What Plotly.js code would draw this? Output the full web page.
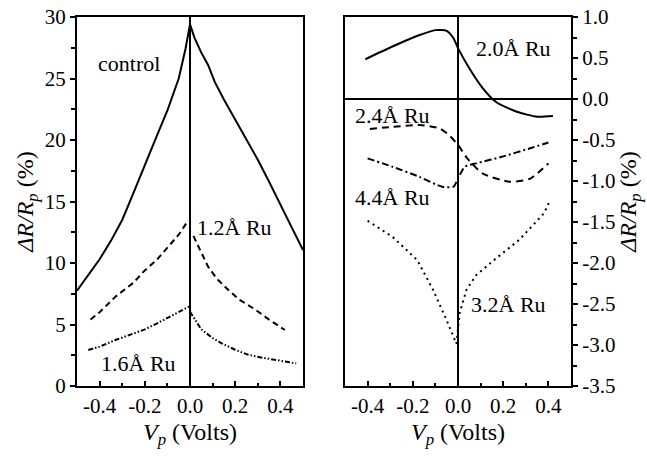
<!DOCTYPE html>
<html><head><meta charset="utf-8">
<script src="https://cdn.plot.ly/plotly-3.0.1.min.js"></script>
<style>html,body{margin:0;padding:0;background:#fff}#plot{width:647px;height:457px}</style>
</head><body><div id="plot"></div>
<script>
// Left panel data (ΔR/R_p in %)
var controlX = [-0.5,-0.45,-0.4,-0.35,-0.3,-0.25,-0.2,-0.15,-0.1,-0.05,-0.02,0,0.02,0.05,0.08,0.11,0.15,0.2,0.25,0.3,0.35,0.4,0.45,0.5];
var controlY = [7.75,9.0,10.3,11.8,13.5,15.7,18.0,20.2,22.4,25.0,27.4,29.4,28.3,27.1,26.1,24.7,23.3,21.7,20.1,18.4,16.6,14.8,12.9,11.05];
var ru12NegX = [-0.44,-0.4,-0.33,-0.25,-0.2,-0.15,-0.1,-0.05,-0.01];
var ru12NegY = [5.4,6.0,7.26,8.4,9.4,10.2,11.25,12.3,13.4];
var ru12PosX = [0.015,0.05,0.08,0.12,0.17,0.22,0.29,0.35,0.42];
var ru12PosY = [12.2,10.8,9.7,8.7,7.8,7.0,6.2,5.4,4.55];
var ru16NegX = [-0.45,-0.4,-0.33,-0.25,-0.2,-0.15,-0.1,-0.05,0];
var ru16NegY = [2.93,3.2,3.74,4.25,4.6,5.05,5.55,6.05,6.5];
var ru16PosX = [0,0.05,0.1,0.14,0.2,0.26,0.32,0.38,0.47];
var ru16PosY = [6.04,4.6,3.9,3.47,2.95,2.52,2.3,2.1,1.84];
// Right panel data
var ru20X = [-0.41,-0.29,-0.17,-0.1,-0.05,-0.02,0,0.05,0.11,0.17,0.26,0.35,0.42];
var ru20Y = [0.485,0.64,0.78,0.84,0.83,0.74,0.62,0.375,0.13,-0.04,-0.155,-0.216,-0.207];
var ru24X = [-0.39,-0.29,-0.17,-0.08,-0.04,0,0.04,0.11,0.23,0.32,0.4];
var ru24Y = [-0.366,-0.34,-0.317,-0.36,-0.44,-0.56,-0.72,-0.91,-1.01,-0.97,-0.785];
var ru44X = [-0.4,-0.29,-0.17,-0.07,-0.02,0,0.03,0.08,0.2,0.32,0.4];
var ru44Y = [-0.724,-0.826,-0.95,-1.07,-1.07,-0.97,-0.826,-0.785,-0.70,-0.6,-0.53];
var ru32X = [-0.4,-0.29,-0.18,-0.11,-0.05,-0.007,0.007,0.037,0.08,0.17,0.27,0.38,0.405];
var ru32Y = [-1.485,-1.68,-1.965,-2.33,-2.70,-2.985,-2.615,-2.33,-2.15,-1.94,-1.72,-1.395,-1.25];
// Tick labels
var xTickVals = [-0.4,-0.2,0,0.2,0.4];
var xTickText = ["-0.4","-0.2","0.0","0.2","0.4"];
var yLeftVals = [0,5,10,15,20,25,30];
var yLeftText = ["0","5","10","15","20","25","30"];
var yRightVals = [-3.5,-3,-2.5,-2,-1.5,-1,-0.5,0,0.5,1];
var yRightText = ["-3.5","-3.0","-2.5","-2.0","-1.5","-1.0","-0.5","0.0","0.5","1.0"];

var fam = "Liberation Serif, Times New Roman, serif";
function tr(x,y,xa,ya,dash,shape){
  return {x:x,y:y,xaxis:xa,yaxis:ya,mode:'lines',showlegend:false,hoverinfo:'skip',
    line:{color:'#000',width:2,dash:dash,shape:shape||'linear',smoothing:0.6}};
}
var data = [
  tr(controlX,controlY,'x','y','solid'),
  tr(ru12NegX,ru12NegY,'x','y','6px,4px'),
  tr(ru12PosX,ru12PosY,'x','y','6px,4px'),
  tr(ru16NegX,ru16NegY,'x','y','5px,2px,1.5px,2px,1.5px,2px'),
  tr(ru16PosX,ru16PosY,'x','y','5px,2px,1.5px,2px,1.5px,2px'),
  tr(ru20X,ru20Y,'x2','y2','solid','spline'),
  tr(ru24X,ru24Y,'x2','y2','7px,5px','spline'),
  tr(ru44X,ru44Y,'x2','y2','7px,3px,2px,3px','spline'),
  tr(ru32X,ru32Y,'x2','y2','2px,4px')
];
function xax(dom,anchor){
  return {domain:dom,anchor:anchor,range:[-0.5,0.5],tickvals:xTickVals,ticktext:xTickText,
    ticks:'inside',ticklen:5,tickwidth:2,tickcolor:'#000',
    minor:{tickvals:[-0.3,-0.1,0.1,0.3],ticks:'inside',ticklen:3,tickwidth:2,tickcolor:'#000',showgrid:false},
    showline:true,linewidth:2,linecolor:'#000',mirror:true,showgrid:false,
    zeroline:true,zerolinewidth:2,zerolinecolor:'#000',
    tickfont:{family:fam,size:21,color:'#000'},
    title:{text:'<i>V</i><sub><i>p</i></sub> (Volts)',font:{family:fam,size:24,color:'#000'},standoff:6}};
}
var layout = {
  width:647,height:457,margin:{l:0,r:0,t:0,b:0},paper_bgcolor:'#fff',plot_bgcolor:'#fff',
  xaxis:xax([77/647,303/647],'y'),
  xaxis2:xax([345/647,571/647],'y2'),
  yaxis:{domain:[71/457,440/457],anchor:'x',range:[0,30],tickvals:yLeftVals,ticktext:yLeftText,
    ticks:'outside',ticklen:5,tickwidth:2,tickcolor:'#000',
    minor:{tickvals:[2.5,7.5,12.5,17.5,22.5,27.5],ticks:'outside',ticklen:4,tickwidth:2,tickcolor:'#000',showgrid:false},
    showline:true,linewidth:2,linecolor:'#000',mirror:true,showgrid:false,zeroline:false,
    tickfont:{family:fam,size:21,color:'#000'},
    title:{text:'<i>ΔR/R</i><sub><i>p</i></sub> (%)',font:{family:fam,size:24,color:'#000'},standoff:4}},
  yaxis2:{domain:[71/457,440/457],anchor:'x2',side:'right',range:[-3.5,1.0],tickvals:yRightVals,ticktext:yRightText,
    ticks:'outside',ticklen:5,tickwidth:2,tickcolor:'#000',
    minor:{tickvals:[-3.25,-2.75,-2.25,-1.75,-1.25,-0.75,-0.25,0.25,0.75],ticks:'outside',ticklen:4,tickwidth:2,tickcolor:'#000',showgrid:false},
    showline:true,linewidth:2,linecolor:'#000',mirror:true,showgrid:false,
    zeroline:true,zerolinewidth:2,zerolinecolor:'#000',
    tickfont:{family:fam,size:21,color:'#000'},
    title:{text:'<i>ΔR/R</i><sub><i>p</i></sub> (%)',font:{family:fam,size:24,color:'#000'},standoff:4}},
  annotations:[
    {text:'control',xref:'x',yref:'y',x:-0.27,y:26.2,showarrow:false,font:{family:fam,size:22,color:'#000'}},
    {text:'1.2Å Ru',xref:'x',yref:'y',x:0.195,y:12.9,showarrow:false,font:{family:fam,size:22,color:'#000'}},
    {text:'1.6Å Ru',xref:'x',yref:'y',x:-0.23,y:1.85,showarrow:false,font:{family:fam,size:22,color:'#000'}},
    {text:'2.0Å Ru',xref:'x2',yref:'y2',x:0.245,y:0.61,showarrow:false,font:{family:fam,size:22,color:'#000'}},
    {text:'2.4Å Ru',xref:'x2',yref:'y2',x:-0.29,y:-0.2,showarrow:false,font:{family:fam,size:22,color:'#000'}},
    {text:'4.4Å Ru',xref:'x2',yref:'y2',x:-0.29,y:-1.2,showarrow:false,font:{family:fam,size:22,color:'#000'}},
    {text:'3.2Å Ru',xref:'x2',yref:'y2',x:0.225,y:-2.5,showarrow:false,font:{family:fam,size:22,color:'#000'}}
  ]
};
Plotly.newPlot('plot',data,layout,{staticPlot:true,displayModeBar:false});
</script></body></html>
